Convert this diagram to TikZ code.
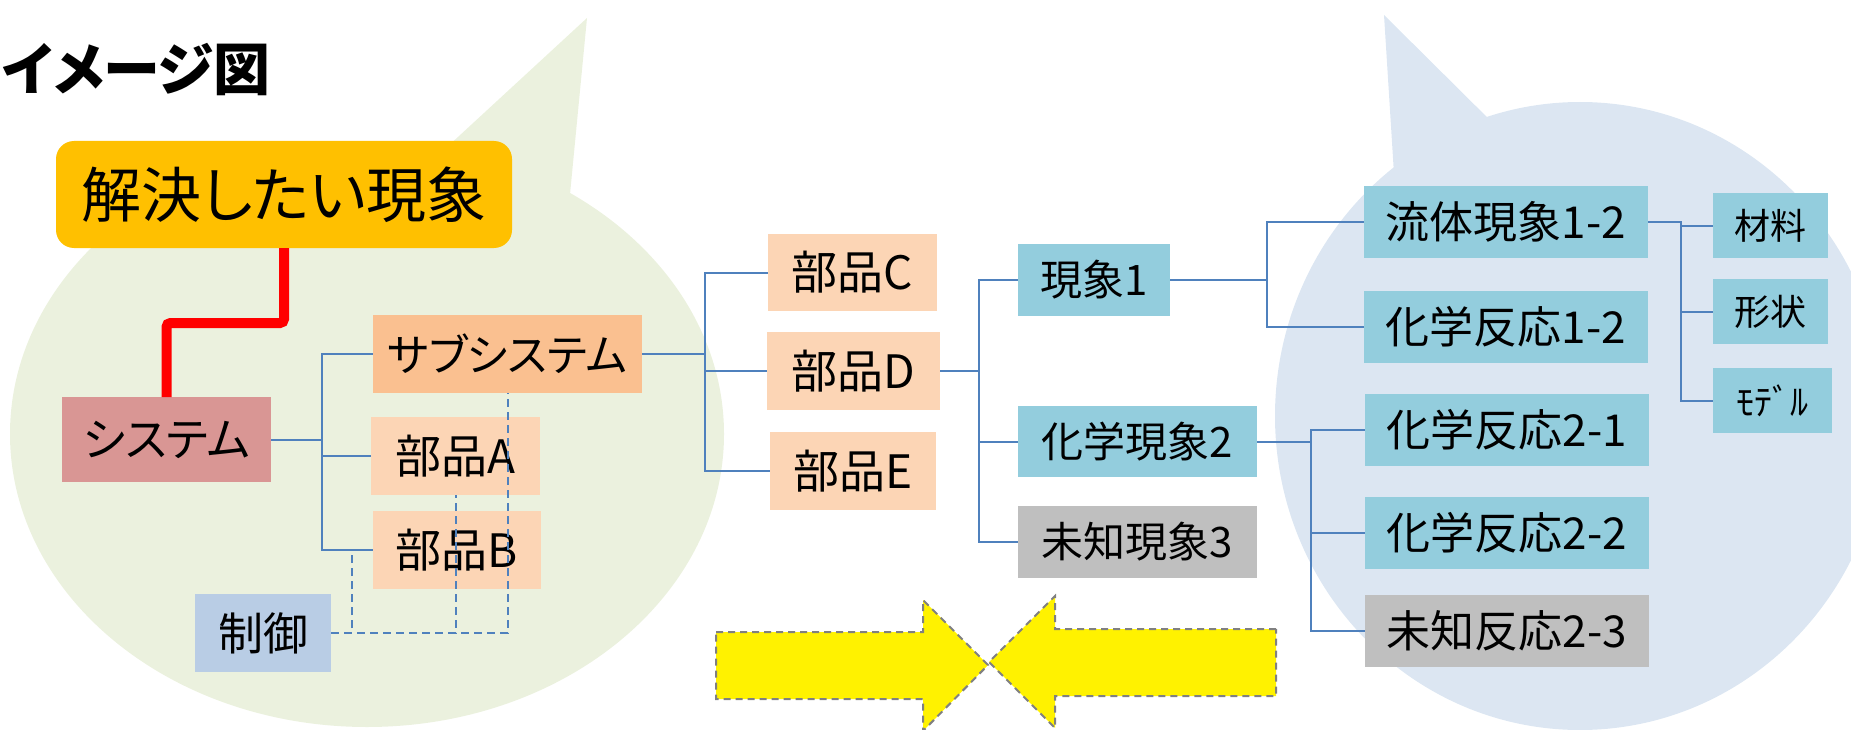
\documentclass[tikz,border=0pt]{standalone}
\usepackage{fontspec}
\setmainfont{Noto Sans CJK JP}[RawFeature=+palt]
\newcommand\fsz[1]{\fontsize{#1}{#1}\selectfont}
\definecolor{bubG}{RGB}{235,241,222}
\definecolor{bubB}{RGB}{220,230,242}
\definecolor{cTop}{RGB}{255,192,0}
\definecolor{cSys}{RGB}{217,150,148}
\definecolor{cSub}{RGB}{250,192,144}
\definecolor{cPart}{RGB}{252,213,181}
\definecolor{cCtl}{RGB}{185,205,229}
\definecolor{cPh}{RGB}{147,205,221}
\definecolor{cUnk}{RGB}{191,191,191}
\definecolor{cLine}{RGB}{79,129,189}
\definecolor{cArrowEdge}{RGB}{128,128,128}
\tikzset{
  bx/.style={inner sep=0pt, outer sep=0pt, anchor=center, text=black},
  topbox/.style={bx, fill=cTop, rounded corners=18pt, font=\fsz{60}},
  sysbox/.style={bx, fill=cSys, font=\fsz{46}},
  subbox/.style={bx, fill=cSub, font=\fsz{44}},
  partbox/.style={bx, fill=cPart, font=\fsz{46}},
  ctlbox/.style={bx, fill=cCtl, font=\fsz{45}},
  phbox/.style={bx, fill=cPh, font=\fsz{42}},
  unkbox/.style={bx, fill=cUnk, font=\fsz{42}},
  rxbox/.style={bx, fill=cPh, font=\fsz{44}},
  urxbox/.style={bx, fill=cUnk, font=\fsz{44}},
  smallbox/.style={bx, fill=cPh, font=\fsz{36}},
  conn/.style={draw=cLine, line width=2pt},
  ctlline/.style={draw=cLine, line width=2pt, dash pattern=on 8pt off 5pt},
  redline/.style={draw=red, line width=10pt, rounded corners=4pt},
  yarrow/.style={fill=yellow, draw=cArrowEdge, line width=2pt, dash pattern=on 7pt off 5pt},
}
\begin{document}
\begin{tikzpicture}[x=1pt,y=-1pt]
\useasboundingbox (0,0) rectangle (1851,730);
% speech bubbles
\fill[bubG] (367,434) ellipse [x radius=357, y radius=293];
\fill[bubG] (587,18) -- (420,172) -- (568,215) -- cycle;
\fill[bubB] (1580,416) ellipse [x radius=305, y radius=314];
\fill[bubB] (1384,15) -- (1395,190) -- (1510,140) -- cycle;
% title
\node[inner sep=0pt, anchor=west, font=\fsz{57}\bfseries] (title) at (2,70) {イメージ図};
% boxes
\node[topbox, minimum width=456, minimum height=107] (top) at (284,194.5) {解決したい現象};
\node[sysbox, minimum width=209, minimum height=85] (sys) at (166.5,439.5) {システム};
\node[subbox, minimum width=269, minimum height=78] (sub) at (507.5,354) {サブシステム};
\node[partbox, minimum width=169, minimum height=78] (pA) at (455.5,456) {部品A};
\node[partbox, minimum width=168, minimum height=78] (pB) at (457,550) {部品B};
\node[ctlbox, minimum width=136, minimum height=78] (ctl) at (263,633) {制御};
\node[partbox, minimum width=169, minimum height=77] (pC) at (852.5,272.5) {部品C};
\node[partbox, minimum width=173, minimum height=78] (pD) at (853.5,371) {部品D};
\node[partbox, minimum width=166, minimum height=78] (pE) at (853,471) {部品E};
\node[phbox, minimum width=152, minimum height=72] (ph1) at (1094,280) {現象1};
\node[phbox, minimum width=239, minimum height=71] (ph2) at (1137.5,441.5) {化学現象2};
\node[unkbox, minimum width=239, minimum height=72] (ph3) at (1137.5,542) {未知現象3};
\node[rxbox, minimum width=284, minimum height=72] (f12) at (1506,222) {流体現象1-2};
\node[rxbox, minimum width=284, minimum height=72] (c12) at (1506,327) {化学反応1-2};
\node[rxbox, minimum width=284, minimum height=72] (c21) at (1507,430) {化学反応2-1};
\node[rxbox, minimum width=284, minimum height=72] (c22) at (1507,533) {化学反応2-2};
\node[urxbox, minimum width=284, minimum height=72] (u23) at (1507,631) {未知反応2-3};
\node[smallbox, minimum width=115, minimum height=65] (mat) at (1770.5,225.5) {材料};
\node[smallbox, minimum width=115, minimum height=65] (shp) at (1770.5,311.5) {形状};
\node[smallbox, minimum width=119, minimum height=65] (mdl) at (1772.5,400.5) {ﾓﾃﾞﾙ};
% junction coordinates
\coordinate (j1) at (322,439.5);
\coordinate (j2) at (705,354);
\coordinate (j3) at (979,371);
\coordinate (j4) at (1267,280);
\coordinate (j5) at (1311,441.5);
\coordinate (j6) at (1681,222);
\coordinate (bj) at (352,550);
\coordinate (rk) at (166.5,323);
% red link
\draw[redline] (top.south) |- (rk) -- (sys.north);
% tree connectors
\draw[conn] (sys.east) -- (j1) |- (sub.west);
\draw[conn] (j1) |- (pA.west);
\draw[conn] (j1) |- (pB.west);
\draw[conn] (sub.east) -- (j2) |- (pC.west);
\draw[conn] (j2) |- (pD.west);
\draw[conn] (j2) |- (pE.west);
\draw[conn] (pD.east) -- (j3) |- (ph1.west);
\draw[conn] (j3) |- (ph2.west);
\draw[conn] (j3) |- (ph3.west);
\draw[conn] (ph1.east) -- (j4) |- (f12.west);
\draw[conn] (j4) |- (c12.west);
\draw[conn] (ph2.east) -- (j5) |- (c21.west);
\draw[conn] (j5) |- (c22.west);
\draw[conn] (j5) |- (u23.west);
\draw[conn] (f12.east) -- (j6) |- (mat.west);
\draw[conn] (j6) |- (shp.west);
\draw[conn] (j6) |- (mdl.west);
% control links (dashed)
\draw[ctlline] (ctl.east) -| (sub.south);
\draw[ctlline] (ctl.east) -| (pA.south);
\draw[ctlline] (ctl.east) -| (bj);
% yellow arrows
\draw[yarrow] (716,632) -- (923,632) -- (923,600) -- (988,665) -- (923,731) -- (923,699) -- (716,699) -- cycle;
\draw[yarrow] (1276,629) -- (1055,629) -- (1055,596) -- (989,662) -- (1055,728) -- (1055,696) -- (1276,696) -- cycle;
\end{tikzpicture}
\end{document}
